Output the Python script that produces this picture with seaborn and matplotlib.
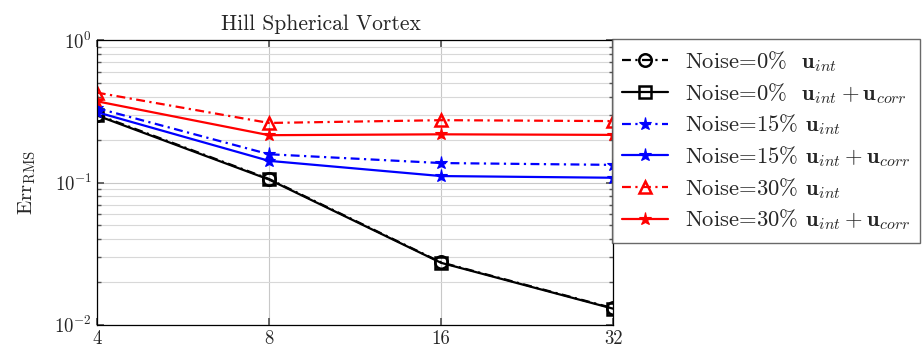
import matplotlib.pyplot as plt
from matplotlib.ticker import FixedLocator, NullLocator, LogLocator
import pandas as pd
import seaborn as sns


N_POINTS = [4, 8, 16, 32]

SERIES = [
    r"Noise=0%  $\mathbf{u}_{int}$",
    r"Noise=0%  $\mathbf{u}_{int} + \mathbf{u}_{corr}$",
    r"Noise=15% $\mathbf{u}_{int}$",
    r"Noise=15% $\mathbf{u}_{int} + \mathbf{u}_{corr}$",
    r"Noise=30% $\mathbf{u}_{int}$",
    r"Noise=30% $\mathbf{u}_{int} + \mathbf{u}_{corr}$",
]

ERR_NOISE0_INT = [0.300, 0.106, 0.0275, 0.0131]
ERR_NOISE0_CORR = [0.296, 0.105, 0.0273, 0.0130]
ERR_NOISE15_INT = [0.333, 0.158, 0.137, 0.133]
ERR_NOISE15_CORR = [0.312, 0.142, 0.111, 0.108]
ERR_NOISE30_INT = [0.428, 0.262, 0.274, 0.270]
ERR_NOISE30_CORR = [0.372, 0.215, 0.218, 0.216]

COLORS = ["black", "black", "blue", "blue", "red", "red"]
MARKERS = ["o", "s", "*", "*", "^", "*"]
DASHDOT = (4, 2, 1, 2)


def setup_style():
    sns.set_theme(style="white")
    plt.rcParams["font.family"] = ["cmr10", "DejaVu Serif"]
    plt.rcParams["mathtext.fontset"] = "cm"
    plt.rcParams["axes.formatter.use_mathtext"] = True
    plt.rcParams["axes.unicode_minus"] = False


def build_frame():
    values = [ERR_NOISE0_INT, ERR_NOISE0_CORR, ERR_NOISE15_INT,
              ERR_NOISE15_CORR, ERR_NOISE30_INT, ERR_NOISE30_CORR]
    rows = []
    for name, vals in zip(SERIES, values):
        for n, v in zip(N_POINTS, vals):
            rows.append({"N": n, "Err": v, "Series": name})
    return pd.DataFrame(rows)


def main():
    setup_style()
    df = build_frame()

    fig = plt.figure(figsize=(9.22, 3.52), dpi=100)
    ax = fig.add_axes([0.105, 0.077, 0.56, 0.809])

    palette = dict(zip(SERIES, COLORS))
    markers = dict(zip(SERIES, MARKERS))
    dashes = {s: (DASHDOT if i % 2 == 0 else "") for i, s in enumerate(SERIES)}

    sns.lineplot(data=df, x="N", y="Err", hue="Series", style="Series",
                 hue_order=SERIES, style_order=SERIES, palette=palette,
                 markers=markers, dashes=dashes, linewidth=1.6,
                 ax=ax, legend=False)

    # pgfplots-like markers: open circle/square/triangle, filled stars
    for line, m, c in zip(ax.get_lines(), MARKERS, COLORS):
        line.set_markeredgecolor(c)
        if m == "*":
            line.set_markerfacecolor(c)
            line.set_markersize(9.5)
            line.set_markeredgewidth(0.8)
        else:
            line.set_markerfacecolor("none")
            line.set_markersize(9)
            line.set_markeredgewidth(1.8)

    ax.set_xscale("log", base=2)
    ax.set_yscale("log")
    ax.set_xlim(4, 32)
    ax.set_ylim(1e-2, 1e0)
    ax.xaxis.set_major_locator(FixedLocator(N_POINTS))
    ax.xaxis.set_minor_locator(NullLocator())
    ax.set_xticklabels([str(n) for n in N_POINTS])
    ax.yaxis.set_minor_locator(LogLocator(base=10, subs=range(2, 10)))

    ax.grid(True, which="major", color="#c8c8c8", linewidth=0.8)
    ax.grid(True, which="minor", axis="y", color="#d8d8d8", linewidth=0.8)
    ax.set_axisbelow(True)
    ax.tick_params(which="both", direction="in", left=True, right=True,
                   bottom=True, top=True, labelsize=13.5, color="#555555")
    ax.tick_params(which="major", length=5)
    ax.tick_params(which="minor", length=3)
    for sp in ax.spines.values():
        sp.set_color("black")
        sp.set_linewidth(0.9)

    ax.set_xlabel("")
    ax.set_ylabel(r"$\mathrm{Err}_{\mathrm{RMS}}$", fontsize=15, labelpad=12)
    ax.set_title("Hill Spherical Vortex", fontsize=15.5, x=0.434, pad=7)

    handles = ax.get_lines()[:len(SERIES)]
    leg = fig.legend(handles, SERIES, loc="upper left",
                     bbox_to_anchor=(0.664, 0.889), fontsize=16.3,
                     frameon=True, fancybox=False, handlelength=2.0,
                     borderaxespad=0.0, labelspacing=0.3, borderpad=0.45,
                     handletextpad=0.75)
    leg.get_frame().set_edgecolor("#444444")
    leg.get_frame().set_linewidth(1.0)

    fig.savefig("out.png", dpi=100)
    plt.close(fig)


if __name__ == "__main__":
    main()
